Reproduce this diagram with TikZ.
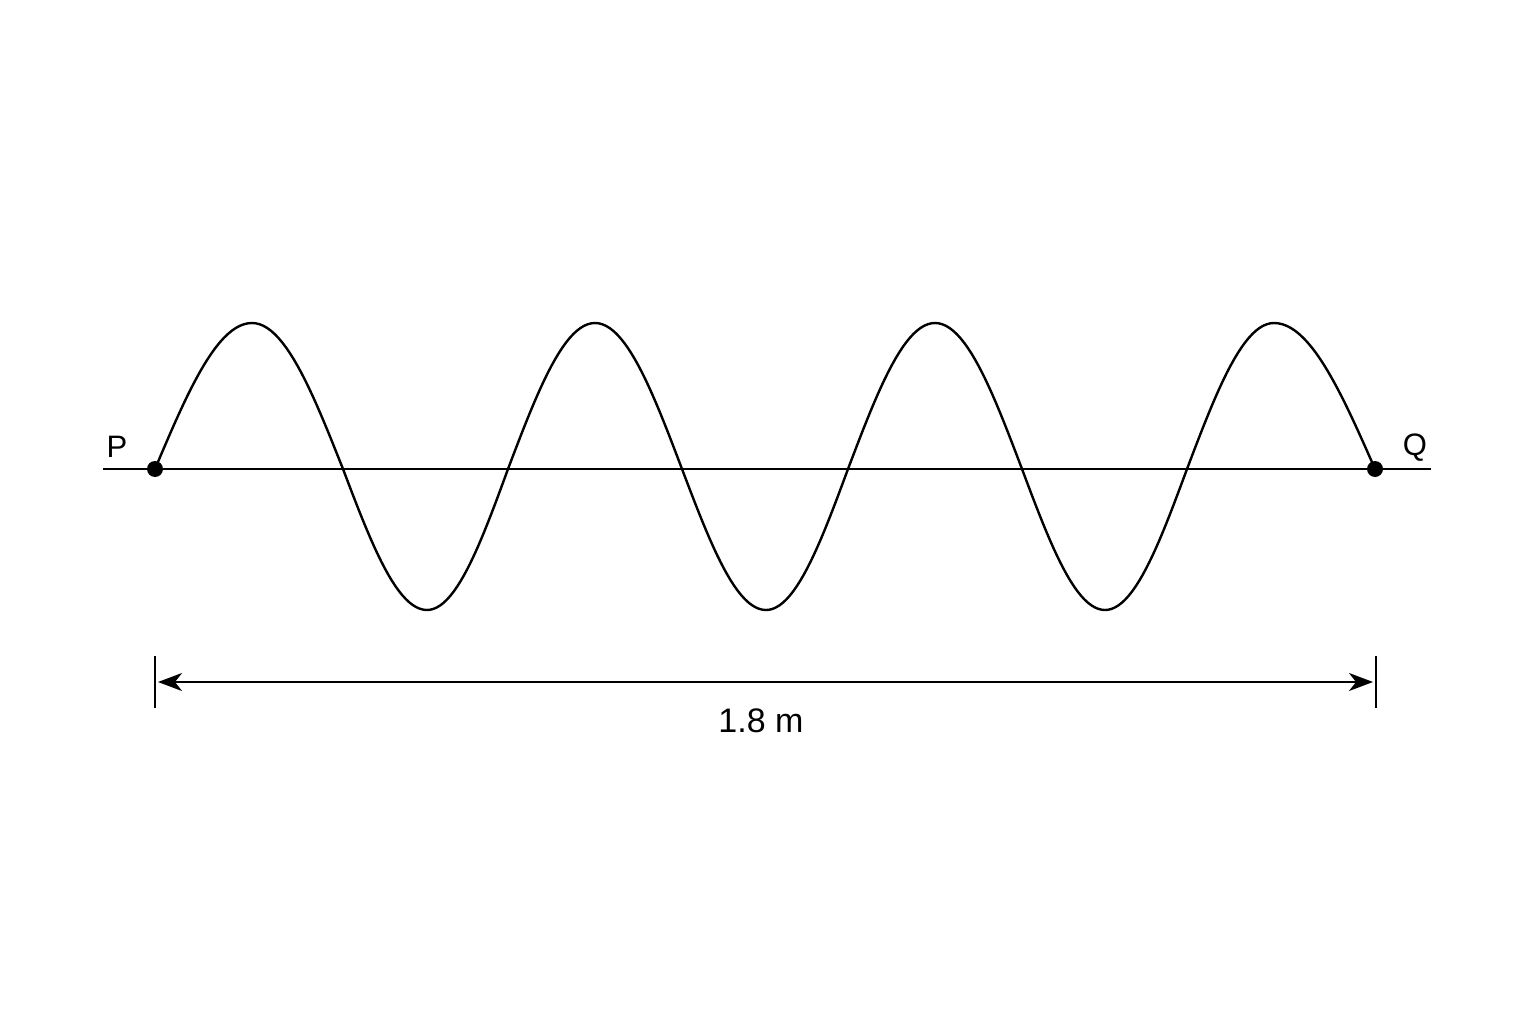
\documentclass[tikz,border=0pt]{standalone}
\usepackage{fontspec}
\setmainfont{Liberation Sans}
\usetikzlibrary{arrows.meta}
\begin{document}
\begin{tikzpicture}[x=1pt,y=-1pt,
  axisline/.style={line width=2pt,black},
  wave/.style={line width=2.4pt,black,line join=round,line cap=round},
  dimline/.style={line width=2pt,black},
  dot/.style={circle,fill=black,inner sep=0pt,minimum size=16pt},
  lbl/.style={font=\fontsize{31}{36}\selectfont,inner sep=0pt}]
\fill[white] (0,0) rectangle (1536,1024);
\useasboundingbox (0,0) rectangle (1536,1024);
% axis
\coordinate (AL) at (103,469);
\coordinate (AR) at (1431,469);
\draw[axisline] (AL) -- (AR);
% wave (each hump: start / extremum / end / amplitude)
\foreach \a/\p/\b/\A in {155/252/343/146, 343/427/508/-141, 508/595/682/146, 682/766/848/-141, 848/935/1022/146, 1022/1105/1187/-141, 1187/1274/1375/146}{
  \draw[wave] plot[domain=0:90,samples=25,variable=\t] ({\a+(\p-\a)*(\t/90)},{469-(\A)*sin(\t)})
           -- plot[domain=90:180,samples=25,variable=\t] ({\p+(\b-\p)*((\t-90)/90)},{469-(\A)*sin(\t)});
}
% end points
\node[dot] (P) at (155,469) {};
\node[dot] (Q) at (1375,469) {};
\node[lbl] (Plabel) at (117,447) {P};
\node[lbl] (Qlabel) at (1415,448) {Q};
% dimension
\coordinate (T1a) at (155,656);
\coordinate (T1b) at (155,708);
\coordinate (T2a) at (1376,656);
\coordinate (T2b) at (1376,708);
\draw[dimline] (T1a) -- (T1b);
\draw[dimline] (T2a) -- (T2b);
\coordinate (D1) at (158,682);
\coordinate (D2) at (1373,682);
\draw[dimline,{Stealth[length=24pt,width=18pt,inset=7pt]}-{Stealth[length=24pt,width=18pt,inset=7pt]}] (D1) -- (D2);
\node[font=\fontsize{34}{40}\selectfont,inner sep=0pt] (len) at (761,721) {1.8 m};
\end{tikzpicture}
\end{document}
